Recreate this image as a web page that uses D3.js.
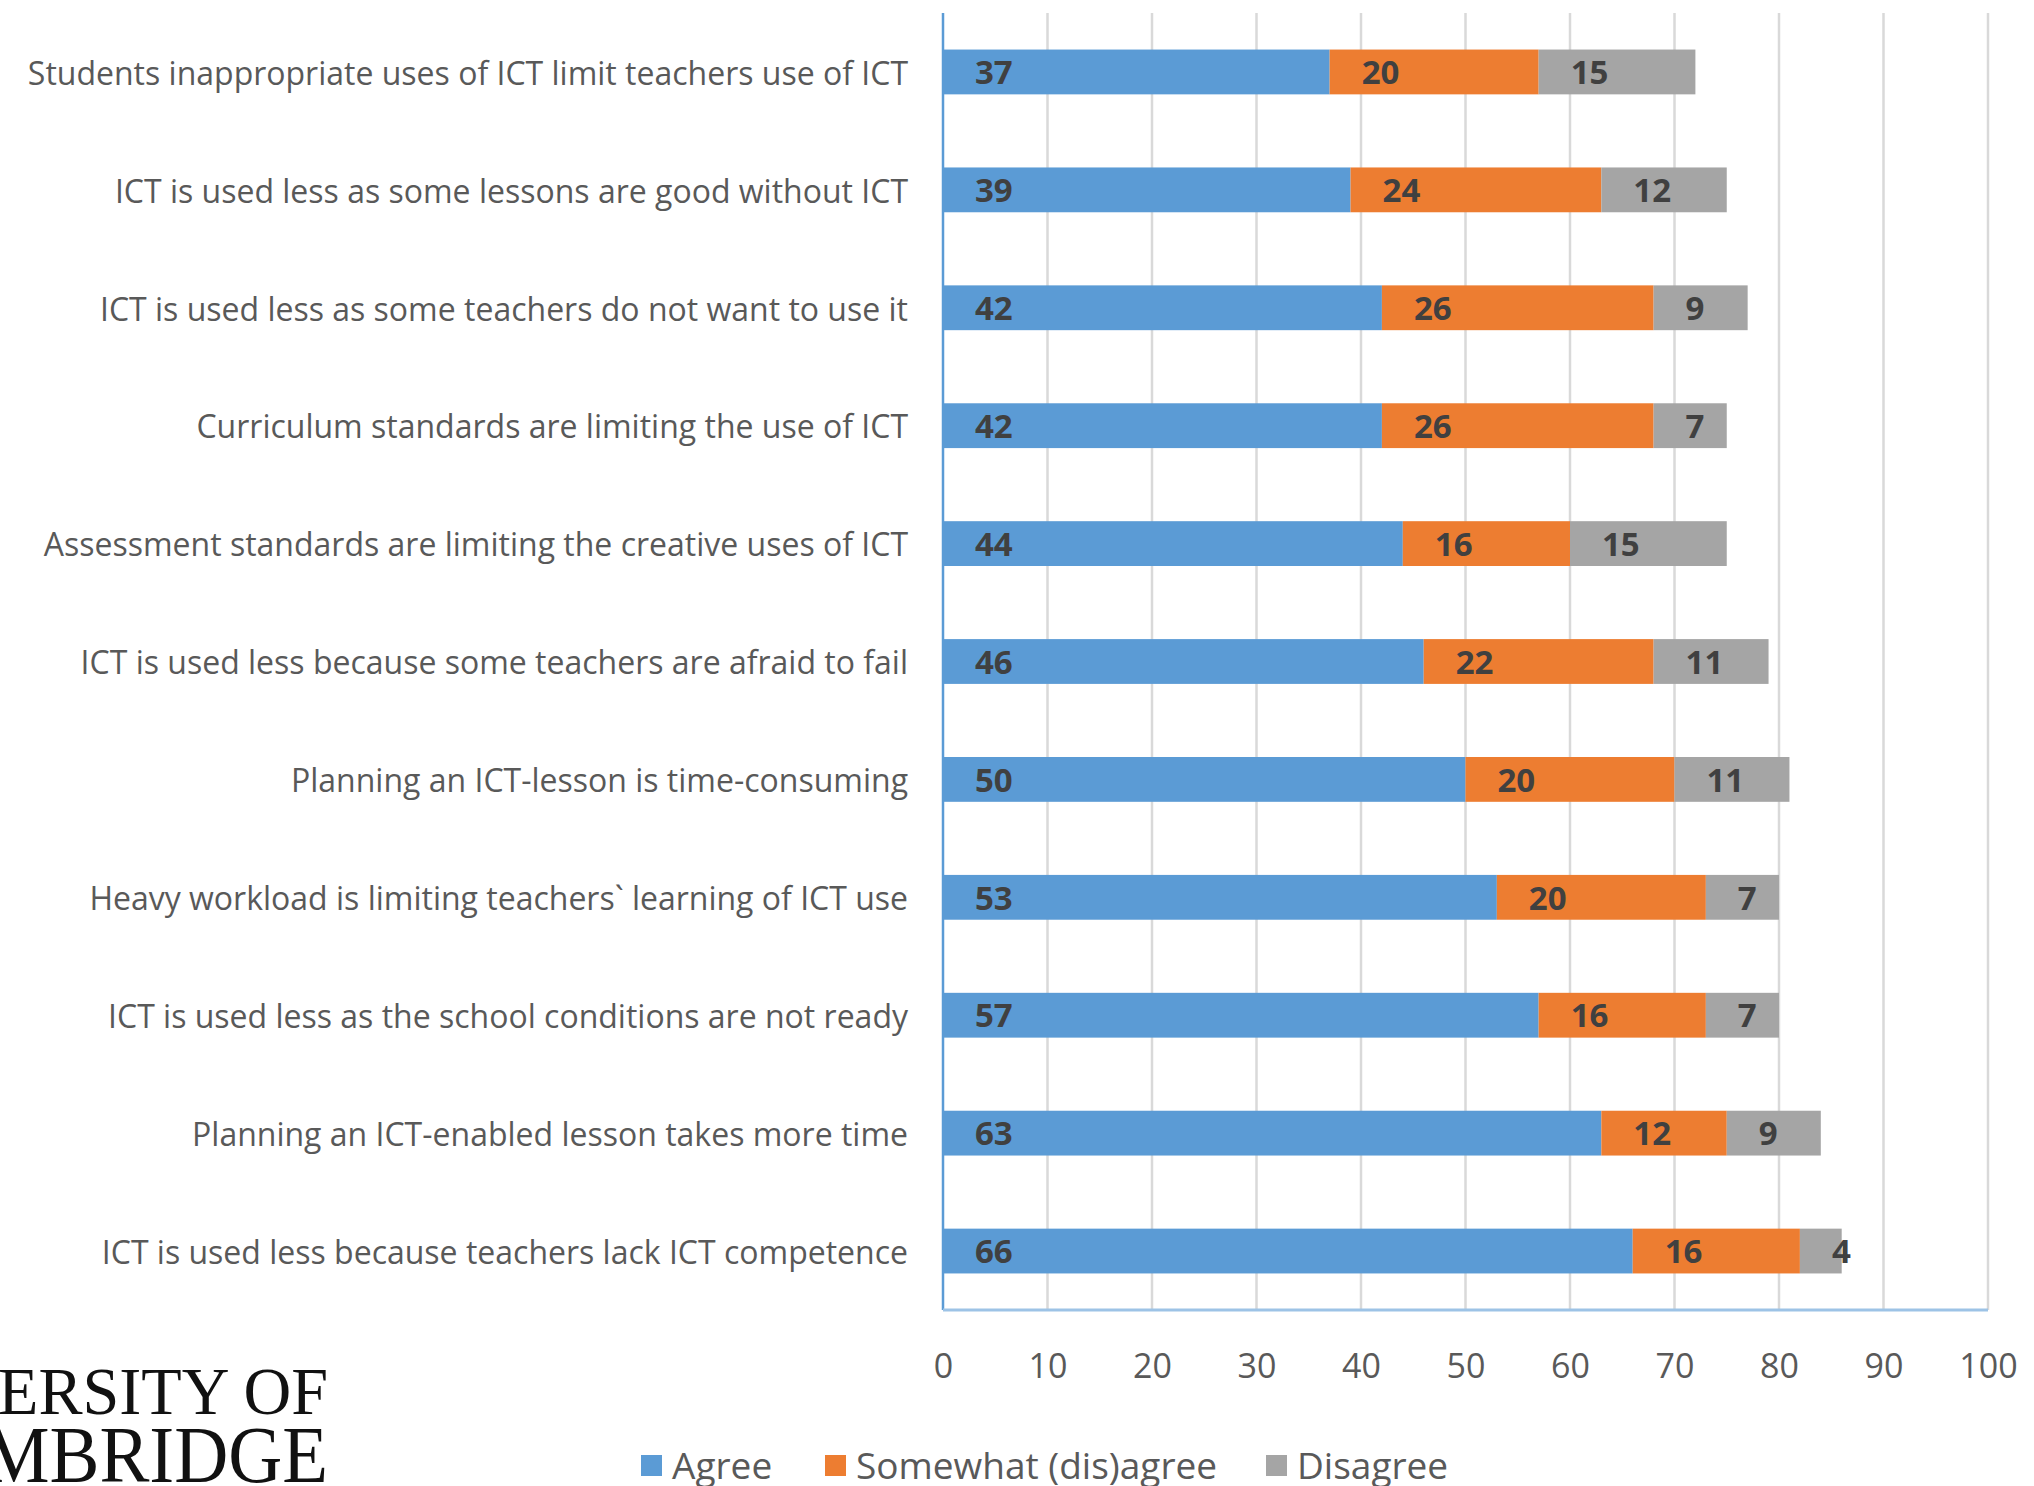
<!DOCTYPE html>
<html>
<head>
<meta charset="utf-8">
<script src="https://cdn.jsdelivr.net/npm/d3@7"></script>
<style>
  body { margin: 0; background: #fff; }
  svg { display: block; }
</style>
</head>
<body>
<svg id="chart" width="2034" height="1486"></svg>
<script>
// categories top to bottom
var categories = [
  "Students inappropriate uses of ICT limit teachers use of ICT",
  "ICT is used less as some lessons are good without ICT",
  "ICT is used less as some teachers do not want to use it",
  "Curriculum standards are limiting the use of ICT",
  "Assessment standards are limiting the creative uses of ICT",
  "ICT is used less because some teachers are afraid to fail",
  "Planning an ICT-lesson is time-consuming",
  "Heavy workload is limiting teachers` learning of ICT use",
  "ICT is used less as the school conditions are not ready",
  "Planning an ICT-enabled lesson takes more time",
  "ICT is used less because teachers lack ICT competence"
];
var agree    = [37, 39, 42, 42, 44, 46, 50, 53, 57, 63, 66];
var somewhat = [20, 24, 26, 26, 16, 22, 20, 20, 16, 12, 16];
var disagree = [15, 12,  9,  7, 15, 11, 11,  7,  7,  9,  4];
var seriesNames = ["Agree", "Somewhat (dis)agree", "Disagree"];
var colors = ["#5b9bd5", "#ed7d31", "#a5a5a5"];
var xTicks = [0, 10, 20, 30, 40, 50, 60, 70, 80, 90, 100];

var svg = d3.select("#chart");
// plot bounds (careful: "top" is taken by window.top)
var plotLeft = 943, plotRight = 1988, plotTop = 13, plotBottom = 1310;

var x = d3.scaleLinear().domain([0, 100]).range([plotLeft, plotRight]);
var y = d3.scaleBand().domain(categories).range([plotTop, plotBottom]).paddingInner(0.62).paddingOuter(0.31);

// build stacked rows
var rows = categories.map(function(c, i) {
  return { cat: c, Agree: agree[i], "Somewhat (dis)agree": somewhat[i], Disagree: disagree[i] };
});
var stacked = d3.stack().keys(seriesNames)(rows);

// gridlines
svg.append("g")
  .selectAll("line")
  .data(xTicks.slice(1))
  .join("line")
  .attr("x1", function(d) { return x(d); })
  .attr("x2", function(d) { return x(d); })
  .attr("y1", plotTop)
  .attr("y2", plotBottom)
  .attr("stroke", "#d9d9d9")
  .attr("stroke-width", 2.5);

// bars
var layer = svg.append("g").selectAll("g")
  .data(stacked)
  .join("g")
  .attr("fill", function(d, i) { return colors[i]; });

layer.selectAll("rect")
  .data(function(d) { return d; })
  .join("rect")
  .attr("x", function(d) { return x(d[0]); })
  .attr("width", function(d) { return x(d[1]) - x(d[0]); })
  .attr("y", function(d) { return y(d.data.cat); })
  .attr("height", y.bandwidth());

// data labels
layer.selectAll("text")
  .data(function(d) { return d; })
  .join("text")
  .attr("x", function(d) { return x(d[0]) + 32; })
  .attr("y", function(d) { return y(d.data.cat) + y.bandwidth() / 2; })
  .attr("dy", "0.37em")
  .attr("font-family", "Open Sans, sans-serif")
  .attr("font-weight", "bold")
  .attr("font-size", 33)
  .attr("fill", "#404040")
  .text(function(d) { return d[1] - d[0]; });

// axis lines
svg.append("line")
  .attr("x1", plotLeft).attr("x2", plotLeft).attr("y1", plotTop).attr("y2", plotBottom)
  .attr("stroke", "#5b9bd5").attr("stroke-width", 2.5);
svg.append("line")
  .attr("x1", plotLeft).attr("x2", plotRight).attr("y1", plotBottom).attr("y2", plotBottom)
  .attr("stroke", "#9dc3e6").attr("stroke-width", 3);

// x tick labels
var xAxis = svg.append("g")
  .attr("transform", "translate(0," + 1366 + ")")
  .call(d3.axisBottom(x).tickValues(xTicks).tickSize(0).tickPadding(0));
xAxis.select(".domain").remove();
xAxis.selectAll("text")
  .attr("dy", "0.36em")
  .attr("font-family", "Open Sans, sans-serif")
  .attr("font-size", 34)
  .attr("fill", "#595959");

// category labels
var yAxis = svg.append("g")
  .attr("transform", "translate(" + 908 + ",0)")
  .call(d3.axisLeft(y).tickSize(0).tickPadding(0));
yAxis.select(".domain").remove();
yAxis.selectAll("text")
  .attr("dy", "0.4em")
  .attr("font-family", "Open Sans, sans-serif")
  .attr("font-size", 32)
  .attr("fill", "#595959");

// legend
var legendX = [641, 825, 1266];
var legend = svg.append("g").selectAll("g")
  .data(seriesNames)
  .join("g")
  .attr("transform", function(d, i) { return "translate(" + legendX[i] + ",1466)"; });
legend.append("rect")
  .attr("x", 0).attr("y", -11).attr("width", 21).attr("height", 21)
  .attr("fill", function(d, i) { return colors[i]; });
legend.append("text")
  .attr("x", 31)
  .attr("dy", "0.36em")
  .attr("font-family", "Open Sans, sans-serif")
  .attr("font-size", 37)
  .attr("fill", "#595959")
  .text(function(d) { return d; });

// cropped logo text at bottom-left
svg.append("text")
  .attr("x", 328).attr("y", 1414)
  .attr("text-anchor", "end")
  .attr("font-family", "Liberation Serif, serif")
  .attr("font-size", 68)
  .attr("textLength", 330)
  .attr("lengthAdjust", "spacingAndGlyphs")
  .attr("fill", "#111")
  .text("ERSITY OF");
svg.append("text")
  .attr("x", 328).attr("y", 1482)
  .attr("text-anchor", "end")
  .attr("font-family", "Liberation Serif, serif")
  .attr("font-size", 80)
  .attr("textLength", 345)
  .attr("lengthAdjust", "spacingAndGlyphs")
  .attr("fill", "#111")
  .text("MBRIDGE");
</script>
</body>
</html>
